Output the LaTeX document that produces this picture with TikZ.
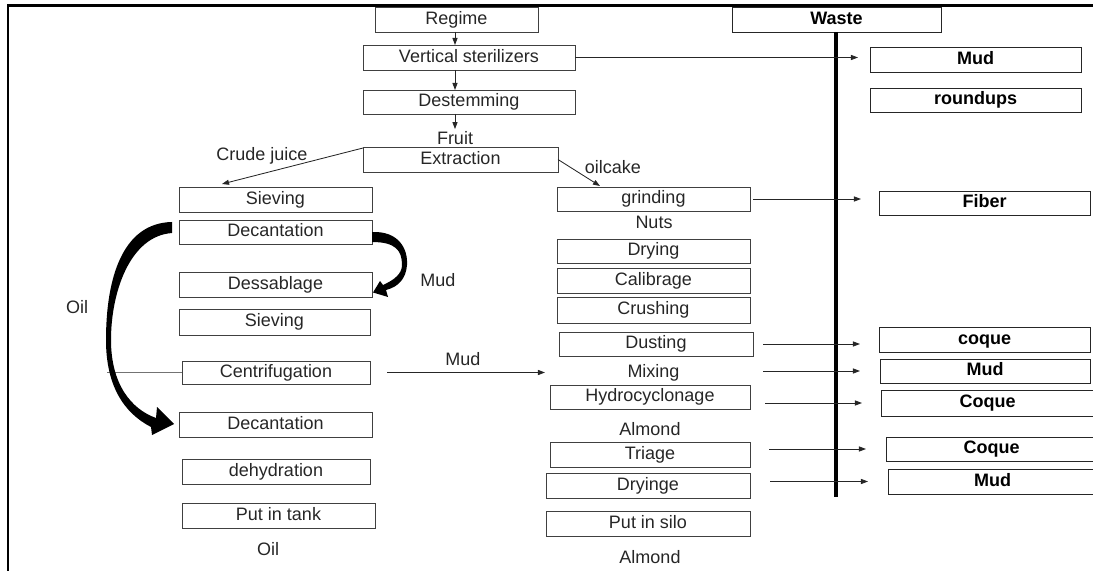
\documentclass[tikz,border=0pt]{standalone}
\usepackage{fontspec}
\setmainfont{Liberation Sans}
\usetikzlibrary{arrows.meta,calc}
\newcommand\fs{\fontsize{12.8pt}{15pt}\selectfont}
\tikzset{
 box/.style={draw=black!75, line width=0.6pt, inner sep=0pt, outer sep=0pt, font=\fs, text=black!85, text height=0.68em, text depth=0pt},
 bbox/.style={box, draw=black!85, font=\fs\bfseries, text=black},
 plain/.style={inner sep=0pt, outer sep=0pt, font=\fs, text=black!85, text height=0.68em, text depth=0pt},
 lbl/.style={inner sep=0pt, font=\fs, text=black!85},
 arr/.style={-{Triangle[length=5pt,width=3.6pt]}, line width=0.6pt, draw=black!85},
 frame/.style={line width=1.8pt, draw=black},
 wasteline/.style={line width=2.2pt, draw=black},
 oilline/.style={line width=0.6pt, draw=black!55},
 bigarrow/.style={fill=black, draw=none},
}
% \bx{style}{x1}{y1}{x2}{y2}{name}{text}
\newcommand\bx[7]{\node[#1, minimum width={(#4-#2)*0.025cm}, minimum height={(#5-#3)*0.025cm}] (#6) at ({(#2+#4)/2},{(#3+#5)/2}) {#7};}
\begin{document}
\begin{tikzpicture}[x=0.025cm,y=-0.025cm]
\useasboundingbox (0,0) rectangle (1093,571);
% frame
\draw[frame] (8,571) -- (8,5.5) -- (1093,5.5);

% top chain
\bx{box}{375}{7}{538}{32}{reg}{Regime}
\bx{box}{363}{45}{575}{70}{vs}{Vertical sterilizers}
\bx{box}{363}{90}{575}{114}{dest}{Destemming}
\node[lbl] (fruit) at (455,138) {Fruit};
\bx{box}{363}{147}{558}{172}{ext}{Extraction}
\node[lbl] (crude) at (262,156) {Crude juice};
\node[lbl] (oilcake) at (613,167) {oilcake};

% left column
\bx{box}{179}{187}{372}{212}{sv1}{Sieving}
\bx{box}{179}{220}{372}{244}{dec1}{Decantation}
\bx{box}{179}{272}{372}{297}{dess}{Dessablage}
\bx{box}{179}{309}{370}{335}{sv2}{Sieving}
\bx{box}{182}{361}{370}{384}{cent}{Centrifugation}
\bx{box}{179}{412}{372}{437}{dec2}{Decantation}
\bx{box}{182}{459}{370}{484}{dehy}{dehydration}
\bx{box}{182}{503}{375}{528}{tank}{Put in tank}
\node[lbl] (oilb) at (268,549) {Oil};
\node[lbl] (oill) at (77,307) {Oil};
\node[lbl] (mudc) at (438,280) {Mud};
\node[lbl] (mudl) at (463,359) {Mud};

% right column
\bx{box}{557}{187}{750}{211}{grind}{grinding}
\node[lbl] (nuts) at (654,222) {Nuts};
\bx{box}{557}{239}{750}{263}{dry}{Drying}
\bx{box}{557}{268}{750}{293}{cal}{Calibrage}
\bx{box}{557}{297}{750}{323}{crush}{Crushing}
\bx{box}{559}{332}{753}{356}{dust}{Dusting}
\bx{plain}{557}{361}{750}{384}{mix}{Mixing}
\bx{box}{550}{385}{750}{409}{hyd}{Hydrocyclonage}
\node[lbl] (alm1) at (650,429) {Almond};
\bx{box}{550}{442}{750}{467}{tri}{Triage}
\bx{box}{546}{473}{750}{498}{drg}{Dryinge}
\bx{box}{546}{511}{750}{536}{silo}{Put in silo}
\node[lbl] (alm2) at (650,557) {Almond};

% waste side
\bx{bbox}{732}{7}{941}{32}{waste}{Waste}
\coordinate (wend) at (836,497);
\draw[wasteline] (waste.south -| wend) -- (wend);
\bx{bbox}{870}{47}{1081}{72}{mud1}{Mud}
\bx{bbox}{870}{88}{1081}{112}{round}{roundups}
\bx{bbox}{879}{191}{1090}{215}{fiber}{Fiber}
\bx{bbox}{879}{327}{1090}{352}{cq1}{coque}
\bx{bbox}{880}{359}{1090}{383}{mud2}{Mud}
\bx{bbox}{881}{390}{1094}{416}{cq2}{Coque}
\bx{bbox}{886}{437}{1097}{461}{cq3}{Coque}
\bx{bbox}{888}{469}{1097}{494}{mud3}{Mud}

% vertical arrows
\draw[arr] (reg.south -| 455,0) -- (vs.north -| 455,0);
\draw[arr] (vs.south -| 455,0) -- (dest.north -| 455,0);
\draw[arr] (dest.south -| 455,0) -- ($(fruit.north -| 455,0)+(0,-2)$);
% extraction branches
\draw[arr] ($(ext.north west)+(0,1)$) -- ($(sv1.north west)+(43,-3)$);
\draw[arr] ($(ext.east)+(0,0)$) -- ($(grind.north west)+(43,-1)$);

% waste arrows
\draw[arr] (vs.east) -- ($(vs.east -| mud1.west)+(-12,0)$);
\draw[arr] ($(grind.east)+(3,0)$) -- ($(grind.east -| fiber.west)+(-18,0)$);
\draw[arr] ($(dust.east)+(10,0)$) -- ($(dust.east -| cq1.west)+(-19,0)$);
\draw[arr] ($(mix.east |- mud2.west)+(13,0)$) -- ($(mud2.west)+(-20,0)$);
\draw[arr] ($(hyd.east |- cq2.west)+(15,0)$) -- ($(cq2.west)+(-19,0)$);
\draw[arr] ($(tri.east |- cq3.west)+(19,0)$) -- ($(cq3.west)+(-20,0)$);
\draw[arr] ($(drg.east |- mud3.west)+(20,0)$) -- ($(mud3.west)+(-20,0)$);

% centrifugation lines
\draw[oilline] (cent.west) -- ++(-75,0);
\coordinate (mudtip) at (545,372.5);
\draw[arr, line width=0.8pt] ($(cent.east)+(17,0)$) -- (mudtip);

% big oil arrow (Decantation -> Decantation)
\fill[bigarrow] ($(dec1.west)+(-7,1)$) .. controls (130,236) and (111,292) .. (111,340)
  .. controls (111,384) and (131,409) .. (156,418)
  -- (157,407) -- ($(dec2.west)+(-5,-0.5)$) -- (152,435) -- (151,427)
  .. controls (124,413) and (106,386) .. (106,340)
  .. controls (106,279) and (122,223) .. ($(dec1.west)+(-7,-10)$) -- cycle;

% mud curved arrow (Decantation -> Dessablage)
\fill[bigarrow] ($(dec1.east)+(0,0)$) .. controls (399,231) and (408,249) .. (407,265)
  .. controls (406,279) and (398,287) .. (386,290)
  -- (388,297) -- ($(dess.east)+(1,8)$) -- (380,281) -- (383,285)
  .. controls (394,280) and (402,274) .. (402,265)
  .. controls (402,250) and (395,242) .. ($(dec1.east)+(0,10)$) -- cycle;
\end{tikzpicture}
\end{document}
